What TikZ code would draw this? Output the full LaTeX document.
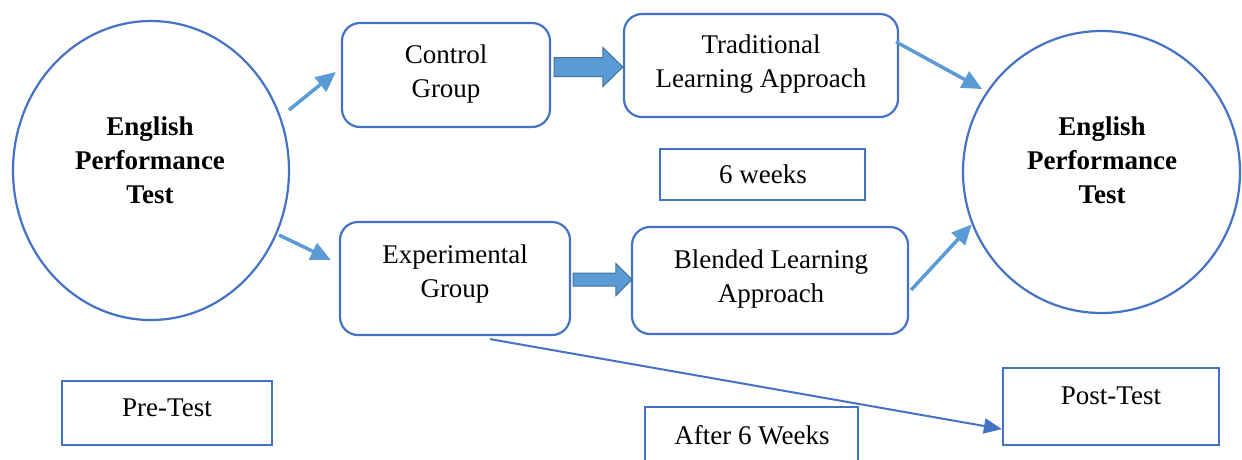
\documentclass[tikz,border=0pt]{standalone}
\usepackage{fontspec}
\setmainfont{Liberation Serif}
\usetikzlibrary{shapes.geometric,arrows.meta,calc}
\definecolor{boxblue}{HTML}{4472C4}
\definecolor{arrowblue}{HTML}{5B9BD5}
\definecolor{blockedge}{HTML}{41719C}

\tikzset{
  shapebox/.style={draw=boxblue, line width=2.2pt, inner sep=0pt},
  roundbox/.style={shapebox, rectangle, rounded corners=18pt},
  plainbox/.style={shapebox, rectangle},
  oval/.style={shapebox, ellipse},
  lbl/.style={inner sep=0pt, align=center, font=\fontsize{27}{34}\selectfont},
  boldlbl/.style={inner sep=0pt, align=center, font=\fontsize{27}{34}\selectfont\bfseries},
  flow/.style={draw=arrowblue, line width=3.5pt, -{Triangle[length=20pt 0,width=18pt 0]}},
  link/.style={draw=boxblue, line width=2pt, -{Triangle[length=18pt 0,width=15pt 0]}},
  blockarrow/.style={fill=arrowblue, draw=blockedge, line width=1pt, line join=miter},
}

% thick block arrow: tail, tip, half shaft, half head, head length
\newcommand{\fatarrow}[5]{%
  \draw[blockarrow] let \p1=(#1), \p2=(#2) in
    (\x1,\y1+#3) -- (\x2-#5,\y1+#3) -- (\x2-#5,\y1+#4) -- (\x2,\y1)
    -- (\x2-#5,\y1-#4) -- (\x2-#5,\y1-#3) -- (\x1,\y1-#3) -- cycle;}

\begin{document}
\begin{tikzpicture}[x=1pt, y=-1pt]
  \clip (0,0) rectangle (1242,459);
  \fill[white] (0,0) rectangle (1242,459);

  % shapes
  \node[oval, minimum width=276pt, minimum height=299pt] (lc) at (151,170.5) {};
  \node[oval, minimum width=277pt, minimum height=282pt] (rc) at (1101.5,172) {};
  \node[roundbox, minimum width=208pt, minimum height=104pt] (ctrl) at (446,75) {};
  \node[roundbox, minimum width=274pt, minimum height=103pt] (trad) at (761,65.5) {};
  \node[plainbox, minimum width=205pt, minimum height=51pt] (weeks) at (762.5,174.5) {};
  \node[roundbox, minimum width=230pt, minimum height=113pt] (expt) at (455,278.5) {};
  \node[roundbox, minimum width=276pt, minimum height=107pt] (blend) at (770,280.5) {};
  \node[plainbox, minimum width=210pt, minimum height=64pt] (pre) at (167,413) {};
  \node[plainbox, minimum width=216pt, minimum height=77pt] (post) at (1111,406.5) {};
  \node[plainbox, minimum width=213pt, minimum height=73pt] (after) at (751.5,443.5) {};

  % texts
  \node[boldlbl] (lct) at (150,160) {English\\Performance\\Test};
  \node[boldlbl] (rct) at (1102,160) {English\\Performance\\Test};
  \node[lbl] (ctrlt) at (446,74) {Control\\Group};
  \node[lbl] (tradt) at (761,64) {Traditional\\Learning Approach};
  \node[lbl] (weekst) at (763,174) {6 weeks};
  \node[lbl] (exptt) at (455,274) {Experimental\\Group};
  \node[lbl] (blendt) at (771,279) {Blended Learning\\Approach};
  \node[lbl] (pret) at (167,408) {Pre-Test};
  \node[lbl] (postt) at (1111,396) {Post-Test};
  \node[lbl] (aftert) at (752,435) {After 6 Weeks};

  % block arrows between the group boxes and the approaches
  \path ($(ctrl.east)+(3,-8)$) coordinate (f1s);
  \path (trad.west |- f1s) coordinate (f1e);
  \fatarrow{f1s}{f1e}{9.5pt}{19.5pt}{20pt}
  \path ($(expt.east)+(2,1)$) coordinate (f2s);
  \path ($(blend.west |- f2s)+(1,0)$) coordinate (f2e);
  \fatarrow{f2s}{f2e}{6.5pt}{16pt}{16pt}

  % flow arrows
  \coordinate (a1s) at (289,110);
  \coordinate (a2s) at (279,235);
  \draw[flow] (a1s) -- ($(ctrl.west)+(-5,-3)$);
  \draw[flow] (a2s) -- ($(expt.west)+(-8,-18.5)$);
  \draw[flow, shorten >=5pt] ($(trad.north east)+(-3,29)$) -- (rc.145);
  \draw[flow] ($(blend.east)+(2,9.5)$) -- (rc.202);

  % experimental group to post-test
  \draw[link] ($(expt.south)+(35,3)$) -- ($(post.south west)+(0,-17)$);
\end{tikzpicture}
\end{document}
